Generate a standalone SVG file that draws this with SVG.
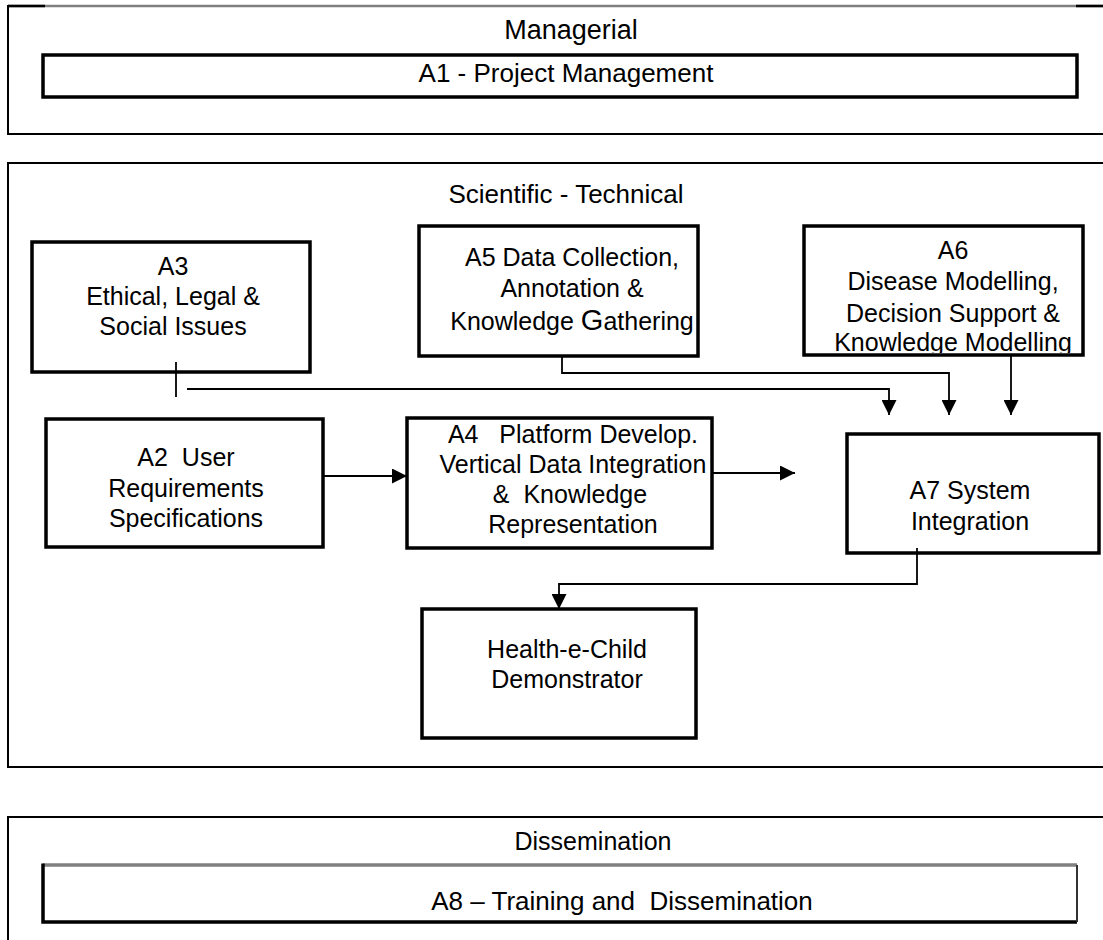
<svg xmlns="http://www.w3.org/2000/svg" width="1103" height="940" viewBox="0 0 1103 940">
<style>
  text { font-family: "Liberation Sans", Arial, sans-serif; fill: #000; }
  .t { font-size: 25px; text-anchor: middle; }
  .box { fill: #fff; stroke: #000; stroke-width: 3.5; }
  .panel { fill: none; stroke: #000; stroke-width: 2; }
  .conn { fill: none; stroke: #000; stroke-width: 1.8; }
</style>
<defs>
  <marker id="arr" markerUnits="userSpaceOnUse" markerWidth="15" markerHeight="15" refX="15" refY="7.5" orient="auto">
    <path d="M0,0 L15,7.5 L0,15 Z" fill="#000"/>
  </marker>
  <clipPath id="clipA6"><rect x="804" y="226" width="300" height="127"/></clipPath>
</defs>
<rect width="1103" height="940" fill="#fff"/>

<g id="panel-managerial">
  <line x1="8" y1="6" x2="1103" y2="6" stroke="#808080" stroke-width="2.5"/>
  <line x1="8" y1="6" x2="45" y2="6" stroke="#000" stroke-width="2.5"/>
  <line x1="1076" y1="6" x2="1103" y2="6" stroke="#000" stroke-width="2.5"/>
  <polyline class="panel" points="8,5 8,134 1103,134"/>
  <text class="t" x="571" y="39" style="font-size:27px">Managerial</text>
</g>
<g id="A1">
  <rect class="box" x="43" y="55" width="1034" height="42"/>
  <text class="t" x="566" y="82" style="font-size:26px">A1 - Project Management</text>
</g>

<g id="panel-scientific">
  <polyline class="panel" points="1103,163 8,163 8,767 1103,767"/>
  <text class="t" x="566" y="203" style="font-size:26px">Scientific - Technical</text>
</g>

<g id="connectors">
  <line class="conn" x1="176" y1="362" x2="176" y2="397"/>
  <polyline class="conn" points="187,389 889,389 889,415" marker-end="url(#arr)"/>
  <polyline class="conn" points="562,356 562,373 949,373 949,415" marker-end="url(#arr)"/>
  <polyline class="conn" points="1011,355 1011,415" marker-end="url(#arr)"/>
  <polyline class="conn" points="323,476 407,476" marker-end="url(#arr)"/>
  <polyline class="conn" points="712,473 795,473" marker-end="url(#arr)"/>
  <polyline class="conn" points="917,548 917,584 559,584 559,609" marker-end="url(#arr)"/>
</g>

<g id="A3">
  <rect class="box" x="32" y="242" width="278" height="130"/>
  <text class="t" x="173" y="275">A3</text>
  <text class="t" x="173" y="305">Ethical, Legal &amp;</text>
  <text class="t" x="173" y="335">Social Issues</text>
</g>
<line class="conn" x1="176" y1="362" x2="176" y2="372"/>

<g id="A5">
  <rect class="box" x="419" y="226" width="279" height="130"/>
  <text class="t" x="572" y="266">A5 Data Collection,</text>
  <text class="t" x="572" y="297">Annotation &amp;</text>
  <text class="t" x="572" y="330">Knowledge <tspan style="font-size:29px">G</tspan>athering</text>
</g>

<g id="A6">
  <rect class="box" x="804" y="226" width="279" height="129"/>
  <g clip-path="url(#clipA6)">
    <text class="t" x="953" y="259">A6</text>
    <text class="t" x="953" y="290">Disease Modelling,</text>
    <text class="t" x="953" y="322">Decision Support &amp;</text>
    <text class="t" x="953" y="351">Knowledge Modelling</text>
  </g>
</g>

<g id="A2">
  <rect class="box" x="46" y="419" width="277" height="128"/>
  <text class="t" x="186" y="466" xml:space="preserve">A2  User</text>
  <text class="t" x="186" y="497">Requirements</text>
  <text class="t" x="186" y="527">Specifications</text>
</g>

<g id="A4">
  <rect class="box" x="407" y="418" width="305" height="130"/>
  <text class="t" x="573" y="443" xml:space="preserve">A4   Platform Develop.</text>
  <text class="t" x="573" y="473">Vertical Data Integration</text>
  <text class="t" x="570" y="503" xml:space="preserve">&amp;  Knowledge</text>
  <text class="t" x="573" y="533">Representation</text>
</g>

<g id="A7">
  <rect class="box" x="847" y="434" width="252" height="119"/>
  <text class="t" x="970" y="499">A7 System</text>
  <text class="t" x="970" y="530">Integration</text>
</g>
<line class="conn" x1="917" y1="548" x2="917" y2="553"/>

<g id="Demonstrator">
  <rect class="box" x="422" y="609" width="274" height="129"/>
  <text class="t" x="567" y="658">Health-e-Child</text>
  <text class="t" x="567" y="688">Demonstrator</text>
</g>

<g id="panel-dissemination">
  <polyline class="panel" points="1103,817 8,817 8,940"/>
  <text class="t" x="593" y="850">Dissemination</text>
</g>
<g id="A8">
  <rect x="43" y="865" width="1034" height="57" fill="#fff"/>
  <line x1="43" y1="865" x2="1077" y2="865" stroke="#808080" stroke-width="3.5"/>
  <polyline points="43,863.5 43,922 1077,922" fill="none" stroke="#000" stroke-width="3.5"/>
  <line x1="1077" y1="865" x2="1077" y2="922" stroke="#333" stroke-width="2"/>
  <text class="t" x="622" y="910" style="font-size:26px" xml:space="preserve">A8 – Training and  Dissemination</text>
</g>
</svg>
